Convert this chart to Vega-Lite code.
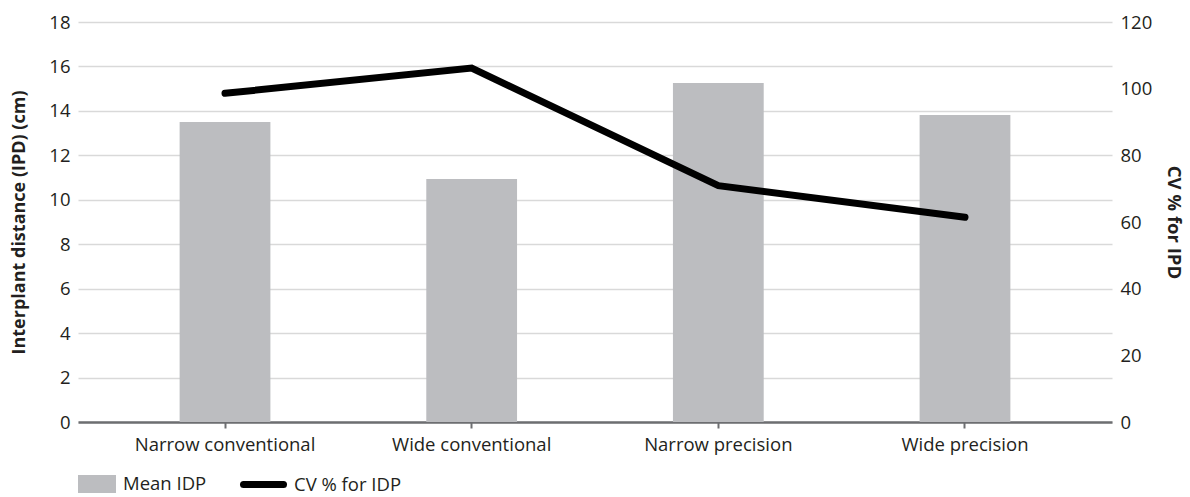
{
  "$schema": "https://vega.github.io/schema/vega-lite/v6.json",
  "width": 1034,
  "height": 400,
  "autosize": {"type": "none"},
  "padding": {"left": 78, "top": 22, "right": 78, "bottom": 75},
  "background": "white",
  "config": {
    "view": {"stroke": null},
    "font": "Open Sans",
    "axis": {"labelFont": "Open Sans", "titleFont": "Open Sans", "labelColor": "#231f20", "titleColor": "#231f20"}
  },
  "data": {
    "values": [
      {"system": "Narrow conventional", "idp": 13.5, "cv": 98.6},
      {"system": "Wide conventional", "idp": 10.94, "cv": 106.2},
      {"system": "Narrow precision", "idp": 15.26, "cv": 70.9},
      {"system": "Wide precision", "idp": 13.82, "cv": 61.4}
    ]
  },
  "encoding": {
    "x": {
      "field": "system", "type": "nominal", "sort": null,
      "scale": {"paddingInner": 0.632, "paddingOuter": 0.412},
      "axis": {
        "title": null, "labelAngle": 0, "labelFontSize": 18.5, "labelPadding": 7, "labelLimit": 0,
        "domainColor": "#6d6e71", "domainWidth": 2.5, "tickColor": "#6d6e71", "tickWidth": 2, "tickSize": 6, "grid": false
      }
    }
  },
  "layer": [
    {
      "mark": {"type": "bar", "color": "#bcbdc0"},
      "encoding": {
        "y": {
          "field": "idp", "type": "quantitative",
          "scale": {"domain": [0, 18], "nice": false},
          "axis": {
            "title": "Interplant distance (IPD) (cm)", "titleFontSize": 18, "titleFontWeight": "bold", "titlePadding": 20,
            "values": [0, 2, 4, 6, 8, 10, 12, 14, 16, 18], "labelFontSize": 18.5, "labelPadding": 8,
            "domain": false, "ticks": false, "grid": true, "gridColor": "#d9d9d9", "gridWidth": 1.5
          }
        },
        "fill": {
          "datum": "Mean IDP", "type": "nominal",
          "scale": {"range": ["#bcbdc0"]},
          "legend": {
            "title": null, "orient": "none", "legendX": 0, "legendY": 443,
            "symbolType": "M-1,-0.47H1V0.47H-1Z", "symbolSize": 1444, "symbolStrokeWidth": 0,
            "labelFontSize": 18.5, "labelFont": "Open Sans", "labelColor": "#231f20", "labelOffset": 7, "labelLimit": 0
          }
        }
      }
    },
    {
      "mark": {"type": "line", "color": "black", "strokeWidth": 7, "strokeCap": "round", "strokeJoin": "miter"},
      "encoding": {
        "y": {
          "field": "cv", "type": "quantitative",
          "scale": {"domain": [0, 120], "nice": false},
          "axis": {
            "orient": "right", "title": "CV % for IPD", "titleFontSize": 18.5, "titleFontWeight": "bold", "titlePadding": 12,
            "values": [0, 20, 40, 60, 80, 100, 120], "labelFontSize": 18.5, "labelPadding": 8,
            "domain": false, "ticks": false, "grid": false
          }
        },
        "stroke": {
          "datum": "CV % for IDP", "type": "nominal",
          "scale": {"range": ["black"]},
          "legend": {
            "title": null, "orient": "none", "legendX": 162, "legendY": 439,
            "symbolType": "stroke", "symbolSize": 1600, "symbolStrokeWidth": 7,
            "labelFontSize": 18.5, "labelFont": "Open Sans", "labelColor": "#231f20", "labelOffset": 7, "labelLimit": 0,
            "encode": {"symbols": {"update": {"strokeCap": {"value": "round"}}}}
          }
        }
      }
    }
  ],
  "resolve": {"scale": {"y": "independent"}}
}
